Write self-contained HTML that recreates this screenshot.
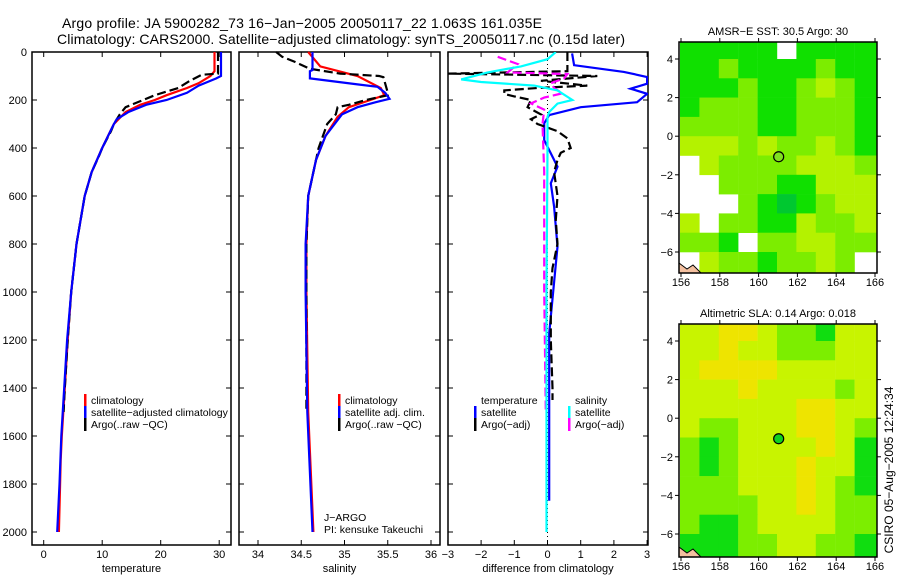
<!DOCTYPE html>
<html><head><meta charset="utf-8"><style>
html,body{margin:0;padding:0;background:#fff;}
svg{display:block;font-family:"Liberation Sans",sans-serif;}
</style></head><body>
<svg id="fig" width="900" height="580" viewBox="0 0 900 580">
<text x="62" y="28" font-size="14" textLength="480">Argo profile: JA 5900282_73 16−Jan−2005 20050117_22 1.063S 161.035E</text>
<text x="57" y="44" font-size="14" textLength="568">Climatology: CARS2000. Satellite−adjusted climatology: synTS_20050117.nc (0.15d later)</text>
<g id="g1"></g>
<g id="g2"></g>
<g id="g3"></g>
<g id="m1"></g>
<g id="m2"></g>
<text transform="translate(893,470) rotate(-90)" font-size="12" text-anchor="middle">CSIRO 05−Aug−2005 12:24:34</text>
</svg>
<script>
// ---- data ----
const tempClimDepth=[0,80,100,130,150,180,200,220,250,300,350,400,500,600,800,1000,1200,1400,1600,1700,1800,2000];
const tempClim=[29.2,29.2,28.5,26.5,24.5,21,19,16.5,14,12,11,10,8.2,7,5.6,4.7,4.1,3.6,3.1,2.9,2.8,2.6];
const tempSatDepth=[0,100,110,140,170,200,220,250,280,300,400,500,600,800,1000,1200,1400,1600,1800,2000];
const tempSat=[30.3,30.3,29.5,26.5,24.5,21,17.5,14.5,12.5,12,10,8.2,7,5.6,4.7,4.0,3.5,3.0,2.7,2.3];
const tempArgoDepth=[0,90,95,120,150,180,210,230,260,300,330,400,430,500,600,800,1000,1200,1400,1500];
const tempArgo=[29.8,29.8,27,25,23,19,16,14,13,12,11.5,10,9.5,8.2,7,5.6,4.7,4.1,3.6,3.4];
const salClimDepth=[0,60,100,150,180,200,230,270,350,450,600,800,1000,1500,2000];
const salClim=[34.58,34.72,35.15,35.42,35.46,35.3,35.05,34.92,34.78,34.67,34.58,34.56,34.56,34.58,34.64];
const salSatDepth=[0,75,80,110,135,145,170,195,210,230,260,350,450,600,800,1000,1500,2000];
const salSat=[34.63,34.63,34.6,34.6,35.15,35.38,35.47,35.52,35.35,35.15,34.97,34.78,34.67,34.58,34.55,34.55,34.57,34.63];
const salArgoDepth=[0,20,40,70,90,100,105,170,180,200,220,230,260,300,400,600,800,1000,1500];
const salArgo=[34.21,34.28,34.42,34.6,34.95,35.4,35.45,35.5,35.5,35.25,35.05,34.92,34.9,34.8,34.7,34.58,34.56,34.56,34.56];
const dTsatDepth=[6,55,83,104,132,153,174,209,230,263,297,367,478,547,644,811,1172,1500,1870];
const dTsat=[0.74,0.8,2.3,3.0,3.0,2.5,3.0,2.7,1.0,0.05,-0.1,-0.1,0.3,0.1,0.2,0.3,0.05,0.05,0.05];
const dTargoDepth=[0,80,90,100,120,140,150,160,175,185,200,230,260,280,300,330,360,400,420,450,500,600,700,800,900,1000,1200,1400,1450];
const dTargo=[0.6,0.6,-3,1.5,-0.2,1.2,-0.3,-1.3,-1.3,-1.0,-0.5,-0.6,-0.2,-0.5,-0.3,0.3,0.6,0.7,0.4,0.3,0.2,0.3,0.25,0.3,0.15,0.1,0.1,0.15,0.15];
const dSsatDepth=[0,30,60,85,114,125,140,160,200,215,250,270,400,1000,2000];
const dSsat=[0.25,0.0,-0.8,-1.8,-2.6,-2.0,-0.4,0.3,0.75,0.3,0.05,0.0,0.0,-0.03,-0.03];
const dSargoDepth=[20,50,85,92,110,130,150,172,190,214,240,300,500,1000,1500];
const dSargo=[-1.5,-0.9,-1.2,0.6,0.5,0.1,0.2,0.45,-0.1,-0.5,-0.1,-0.15,-0.1,-0.1,-0.05];
const sstGrid=[
[1,1,1,1,1,-1,1,1,1,1],
[1,1,2,1,1,1,1,2,1,1],
[1,1,1,2,1,1,2,3,2,1],
[1,2,2,2,1,1,2,2,2,1],
[2,2,2,2,1,1,2,2,2,1],
[3,3,3,2,3,2,2,3,2,1],
[-1,3,2,2,2,2,3,3,3,2],
[-1,-1,2,2,2,1,1,3,3,3],
[-1,-1,-1,2,1,0,1,2,3,3],
[3,-1,2,2,1,1,3,2,2,3],
[2,2,1,-1,2,2,3,3,2,2],
[-1,3,2,2,1,2,2,3,2,-1]];
const slaGrid=[
[3,3,4,4,3,2,2,1,3,3],
[3,3,4,3,3,2,2,2,3,3],
[3,4,4,4,4,3,3,3,3,3],
[3,3,3,4,3,3,3,3,2,3],
[3,3,3,3,3,3,4,4,3,3],
[3,2,2,3,3,3,4,4,3,2],
[2,1,2,3,3,3,3,4,3,1],
[2,1,2,3,3,3,4,3,3,1],
[2,2,2,3,3,3,4,3,2,1],
[2,2,2,2,3,3,4,3,2,2],
[2,1,1,2,3,3,3,3,2,2],
[1,1,1,2,2,3,3,2,2,1]];
const depthTicks=[0,200,400,600,800,1000,1200,1400,1600,1800,2000];
const tempTicks=[0,10,20,30];
const salTicks=[34,34.5,35,35.5,36];
const diffTicks=[-3,-2,-1,0,1,2,3];
const latTicks=[4,2,0,-2,-4,-6];
const lonTicks=[156,158,160,162,164,166];
const argoLon=161.035, argoLat=-1.063;

const NS="http://www.w3.org/2000/svg";
function mk(parent,tag,attrs){const e=document.createElementNS(NS,tag);for(const k in attrs)e.setAttribute(k,attrs[k]);parent.appendChild(e);return e;}
const yD=d=>52+d*0.24;
const TOP=52,BOT=545;

function panel(g,x0,x1,xf,ticks,labels,title){
  const fr=mk(g,'rect',{x:x0,y:TOP,width:x1-x0,height:BOT-TOP,fill:'none',stroke:'#000','stroke-width':1.5});
  
  
  ticks.forEach((t,i)=>{const x=xf(t);
    mk(g,'line',{x1:x,x2:x,y1:BOT,y2:BOT-5,stroke:'#000'});
    mk(g,'line',{x1:x,x2:x,y1:TOP,y2:TOP+5,stroke:'#000'});
    const tx=mk(g,'text',{x:x,y:558,'font-size':11,'text-anchor':'middle'});tx.textContent=labels[i];
    
    
  });
  depthTicks.forEach(d=>{const y=yD(d);
    mk(g,'line',{x1:x0,x2:x0+5,y1:y,y2:y,stroke:'#000'});
    mk(g,'line',{x1:x1,x2:x1-5,y1:y,y2:y,stroke:'#000'});});
  const t=mk(g,'text',{x:(x0+x1)/2,y:572,'font-size':11,'text-anchor':'middle'});t.textContent=title;
  
  
}
function line(g,depths,vals,xf,color,dash,name,w){
  const pts=depths.map((d,i)=>xf(vals[i]).toFixed(1)+','+yD(d).toFixed(1)).join(' ');
  const p=mk(g,'polyline',{points:pts,fill:'none',stroke:color,'stroke-width':w||2.2});
  if(dash)p.setAttribute('stroke-dasharray',dash);
  
  
}
function legend(g,x,y,color,label){
  if(color)mk(g,'rect',{x:x,y:y-10,width:2.5,height:13,fill:color});
  const t=mk(g,'text',{x:x+7,y:y,'font-size':10.5});t.textContent=label;
  
  
}
const g1=document.getElementById('g1');
depthTicks.forEach(d=>{const t=mk(g1,'text',{x:27,y:yD(d)+4,'font-size':11,'text-anchor':'end'});t.textContent=d;
  
  });
const xT=t=>43.7+5.85*t;
panel(g1,32,231,xT,tempTicks,tempTicks.map(String),'temperature');
line(g1,tempClimDepth,tempClim,xT,'#ff0000',null,'temp-climatology-line');
line(g1,tempArgoDepth,tempArgo,xT,'#000',"9,4",'temp-argo-line');
line(g1,tempSatDepth,tempSat,xT,'#0000ff',null,'temp-satellite-line');
legend(g1,84,404,'#ff0000','climatology');
legend(g1,84,416,'#0000ff','satellite−adjusted climatology');
legend(g1,84,428,'#000','Argo(..raw −QC)');
const g2=document.getElementById('g2');
const xS=s=>258+86.5*(s-34);
panel(g2,239,440,xS,salTicks,salTicks.map(String),'salinity');
line(g2,salClimDepth,salClim,xS,'#ff0000',null,'sal-climatology-line');
line(g2,salArgoDepth,salArgo,xS,'#000',"9,4",'sal-argo-line');
line(g2,salSatDepth,salSat,xS,'#0000ff',null,'sal-satellite-line');
legend(g2,338,404,'#ff0000','climatology');
legend(g2,338,416,'#0000ff','satellite adj. clim.');
legend(g2,338,428,'#000','Argo(..raw −QC)');
let tj=mk(g2,'text',{x:324,y:521,'font-size':10.5});tj.textContent='J−ARGO';


tj=mk(g2,'text',{x:324,y:533,'font-size':10.5});tj.textContent='PI: kensuke Takeuchi';


const g3=document.getElementById('g3');
const xDf=v=>547.5+33.2*v;
panel(g3,448,648,xDf,diffTicks,diffTicks.map(v=>v<0?'−'+(-v):String(v)),'difference from climatology');
mk(g3,'line',{x1:xDf(0),x2:xDf(0),y1:TOP,y2:BOT,stroke:'#000','stroke-dasharray':'1,3'});
const clip=mk(g3,'clipPath',{id:'c3'});mk(clip,'rect',{x:448,y:TOP,width:200,height:BOT-TOP});
const g3c=mk(g3,'g',{'clip-path':'url(#c3)'});
line(g3c,dTsatDepth,dTsat,xDf,'#0000ff',null,'diff-temp-satellite-line');
line(g3c,dTargoDepth,dTargo,xDf,'#000',"9,4",'diff-temp-argo-line');
line(g3c,dSargoDepth,dSargo,xDf,'#ff00ff',"9,4",'diff-sal-argo-line');
line(g3c,dSsatDepth,dSsat,xDf,'#00ffff',null,'diff-sal-satellite-line');
legend(g3,474,404,null,'temperature');
legend(g3,474,416,'#0000ff','satellite');
legend(g3,474,428,'#000','Argo(−adj)');
legend(g3,568,404,null,'salinity');
legend(g3,568,416,'#00ffff','satellite');
legend(g3,568,428,'#ff00ff','Argo(−adj)');
const pal={0:'#00c830',1:'#10e000',2:'#7ced00',3:'#b4f200',4:'#e6ee00'};
const slaPal={1:'#10dd10',2:'#7cee00',3:'#c8f400',4:'#eee400'};
function map(id,top,bottom,grid,colors,title,dotColor){
  const g=document.getElementById(id);
  const L=679,R=877;
  const xL=lon=>681+19.4*(lon-156);
  const yL=lat=>(top+17)+19.3*(4-lat);
  const cp=mk(g,'clipPath',{id:'cp'+id});mk(cp,'rect',{x:L,y:top,width:R-L,height:bottom-top});
  const gc=mk(g,'g',{'clip-path':'url(#cp'+id+')'});
  grid.forEach((row,r)=>row.forEach((v,c)=>{
    if(v<0)return;
    const x=xL(156+c)-1, y=yL(5-r);
    const cell=mk(gc,'rect',{x:x.toFixed(1),y:y.toFixed(1),width:(c==9?30:19.6),height:(r==11?30:19.6),fill:colors[v]});
    
    
  }));
  mk(gc,'path',{d:`M${L} ${bottom-10} L${L+8} ${bottom-4} L${L+14} ${bottom-8} L${L+22} ${bottom} L${L} ${bottom} Z`,fill:'#f4c0a0',stroke:'#000','stroke-width':1});
  const fr=mk(g,'rect',{x:L,y:top,width:R-L,height:bottom-top,fill:'none',stroke:'#000','stroke-width':1.5});
  
  
  latTicks.forEach(la=>{const y=yL(la);
    mk(g,'line',{x1:L,x2:L-4,y1:y,y2:y,stroke:'#000'});mk(g,'line',{x1:R,x2:R+4,y1:y,y2:y,stroke:'#000'});
    const t=mk(g,'text',{x:673,y:y+4,'font-size':11,'text-anchor':'end'});t.textContent=la<0?'−'+(-la):String(la);
    
    });
  lonTicks.forEach(lo=>{const x=xL(lo);
    mk(g,'line',{x1:x,x2:x,y1:top,y2:top-4,stroke:'#000'});mk(g,'line',{x1:x,x2:x,y1:bottom,y2:bottom+4,stroke:'#000'});
    const t=mk(g,'text',{x:x,y:bottom+13,'font-size':11,'text-anchor':'middle'});t.textContent=lo;
    
    });
  const tt=mk(g,'text',{x:(L+R)/2,y:top-7,'font-size':11,'text-anchor':'middle'});tt.textContent=title;
  
  
  const dot=mk(g,'circle',{cx:xL(argoLon),cy:yL(argoLat),r:5,fill:dotColor,stroke:'#000','stroke-width':1.2});
  
  
}
map('m1',42,273,sstGrid,pal,'AMSR−E SST: 30.5 Argo: 30','#80e020');
map('m2',324,557,slaGrid,slaPal,'Altimetric SLA: 0.14 Argo: 0.018','#10d020');
</script>
</body></html>
